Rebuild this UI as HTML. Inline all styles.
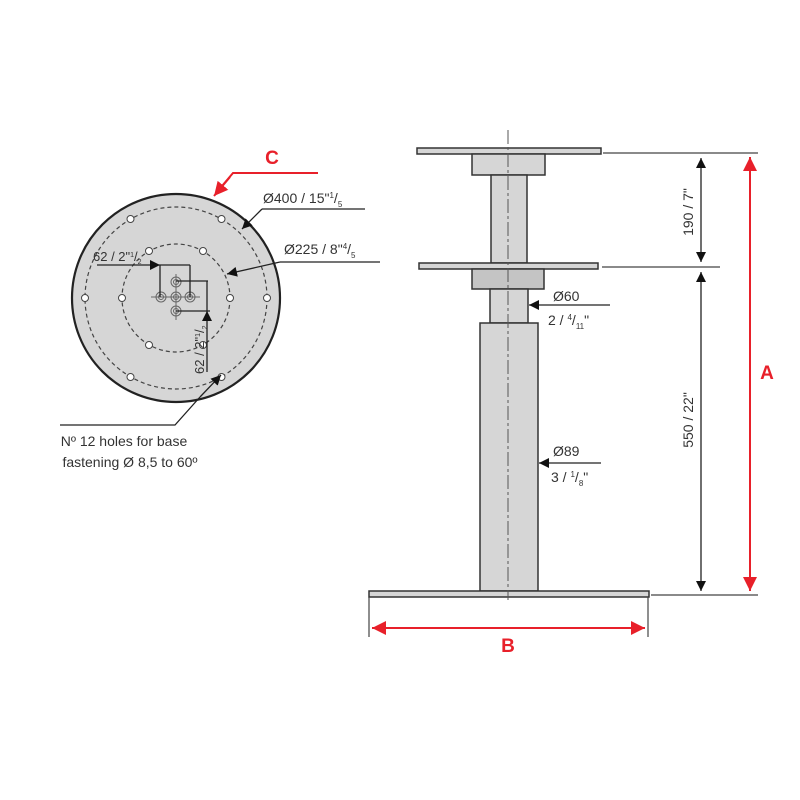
<!DOCTYPE html>
<html><head><meta charset="utf-8"><style>
html,body{margin:0;padding:0;background:#fff;}
svg{display:block;}
text{font-family:"Liberation Sans",sans-serif;fill:#333;}
</style></head><body>
<svg width="800" height="800" viewBox="0 0 800 800" xmlns="http://www.w3.org/2000/svg">
<defs>
<marker id="ab" viewBox="0 0 10 10" refX="10" refY="5" markerWidth="10" markerHeight="10" orient="auto-start-reverse" markerUnits="userSpaceOnUse"><path d="M0,0L10,5L0,10z" fill="#111"/></marker>
<marker id="ar" viewBox="0 0 10 10" refX="10" refY="5" markerWidth="14" markerHeight="14" orient="auto-start-reverse" markerUnits="userSpaceOnUse"><path d="M0,0L10,5L0,10z" fill="#e8202a"/></marker>
</defs>

<circle cx="176" cy="298" r="104" fill="#d6d6d6" stroke="#222" stroke-width="2.2"/>
<circle cx="176" cy="298" r="91" fill="none" stroke="#444" stroke-width="1.2" stroke-dasharray="4,3"/>
<circle cx="176" cy="298" r="54" fill="none" stroke="#444" stroke-width="1.2" stroke-dasharray="4,3"/>
<g fill="#fff" stroke="#444" stroke-width="1">
<circle cx="267" cy="298" r="3.5"/><circle cx="85" cy="298" r="3.5"/>
<circle cx="221.5" cy="219" r="3.5"/><circle cx="130.5" cy="219" r="3.5"/>
<circle cx="221.5" cy="377" r="3.5"/><circle cx="130.5" cy="377" r="3.5"/>
<circle cx="230" cy="298" r="3.5"/><circle cx="122" cy="298" r="3.5"/>
<circle cx="203" cy="251" r="3.5"/><circle cx="149" cy="251" r="3.5"/>
<circle cx="203" cy="345" r="3.5"/><circle cx="149" cy="345" r="3.5"/>
</g>
<g fill="none" stroke="#666" stroke-width="1">
<circle cx="176" cy="297" r="5"/><circle cx="176" cy="297" r="2.5"/>
<circle cx="161" cy="297" r="5"/><circle cx="161" cy="297" r="2.5"/>
<circle cx="190" cy="297" r="5"/><circle cx="190" cy="297" r="2.5"/>
<circle cx="176" cy="282" r="5"/><circle cx="176" cy="282" r="2.5"/>
<circle cx="176" cy="311" r="5"/><circle cx="176" cy="311" r="2.5"/>
<line x1="151" y1="297" x2="200" y2="297"/>
<line x1="176" y1="274" x2="176" y2="320"/>
</g>
<g stroke="#222" stroke-width="1.3" fill="none">
<line x1="97" y1="265" x2="160" y2="265" marker-end="url(#ab)"/>
<line x1="160" y1="265" x2="190" y2="265"/>
<line x1="160" y1="265" x2="160" y2="297"/>
<line x1="190" y1="265" x2="190" y2="297"/>
<line x1="176" y1="281" x2="208" y2="281"/>
<line x1="176" y1="311" x2="210" y2="311"/>
<line x1="207" y1="372" x2="207" y2="311" marker-end="url(#ab)"/>
<line x1="207" y1="281" x2="207" y2="311"/>
</g>
<text x="93" y="261" font-size="13">62 / 2"<tspan font-size="7" dy="-4">1</tspan><tspan dy="4">/</tspan><tspan font-size="7" dy="3">2</tspan></text>
<text transform="translate(204,374) rotate(-90)" font-size="13">62 / 2"<tspan font-size="7" dy="-4">1</tspan><tspan dy="4">/</tspan><tspan font-size="7" dy="3">2</tspan></text>

<g stroke="#222" stroke-width="1.3" fill="none">
<line x1="365" y1="209" x2="262" y2="209"/>
<line x1="262" y1="209" x2="242" y2="229" marker-end="url(#ab)"/>
<line x1="380" y1="262" x2="280" y2="262"/>
<line x1="280" y1="262" x2="227" y2="274" marker-end="url(#ab)"/>
<polyline points="60,425 175,425 200,397"/>
<line x1="200" y1="397" x2="221" y2="375" marker-end="url(#ab)"/>
</g>
<text x="263" y="203" font-size="14">Ø400 / 15"<tspan font-size="8" dy="-5">1</tspan><tspan dy="5">/</tspan><tspan font-size="8" dy="4">5</tspan></text>
<text x="284" y="254" font-size="14">Ø225 / 8"<tspan font-size="8" dy="-5">4</tspan><tspan dy="5">/</tspan><tspan font-size="8" dy="4">5</tspan></text>
<text x="124" y="446" font-size="14" text-anchor="middle">Nº 12 holes for base</text>
<text x="130" y="467" font-size="14" text-anchor="middle">fastening Ø 8,5 to 60º</text>

<polyline points="318,173 233,173 222,186" fill="none" stroke="#e8202a" stroke-width="2"/>
<line x1="230" y1="177" x2="214" y2="196" stroke="#e8202a" stroke-width="2" marker-end="url(#ar)"/>
<text x="272" y="164" font-size="19" font-weight="bold" text-anchor="middle" style="fill:#e8202a">C</text>

<g stroke="#333" stroke-width="1.5" fill="#d6d6d6">
<rect x="417" y="148" width="184" height="6"/>
<rect x="472" y="154" width="73" height="21"/>
<rect x="491" y="175" width="36" height="88"/>
<rect x="419" y="263" width="179" height="6"/>
<rect x="472" y="269" width="72" height="20" fill="#c4c4c4"/>
<rect x="490" y="289" width="38" height="34"/>
<rect x="480" y="323" width="58" height="268"/>
<rect x="369" y="591" width="280" height="6"/>
</g>
<line x1="508" y1="130" x2="508" y2="600" stroke="#555" stroke-width="1" stroke-dasharray="14,3,3,3"/>

<g stroke="#444" stroke-width="1.2" fill="none">
<line x1="603" y1="153" x2="758" y2="153"/>
<line x1="602" y1="267" x2="720" y2="267"/>
<line x1="651" y1="595" x2="758" y2="595"/>
<line x1="369" y1="597" x2="369" y2="637"/>
<line x1="648" y1="597" x2="648" y2="637"/>
</g>
<g stroke="#222" stroke-width="1.3">
<line x1="701" y1="158" x2="701" y2="262" marker-start="url(#ab)" marker-end="url(#ab)"/>
<line x1="701" y1="272" x2="701" y2="591" marker-start="url(#ab)" marker-end="url(#ab)"/>
<line x1="610" y1="305" x2="529" y2="305" marker-end="url(#ab)"/>
<line x1="601" y1="463" x2="539" y2="463" marker-end="url(#ab)"/>
</g>
<text transform="translate(693,212) rotate(-90)" font-size="14" text-anchor="middle">190 / 7"</text>
<text transform="translate(693,420) rotate(-90)" font-size="14" text-anchor="middle">550 / 22"</text>
<text x="553" y="301" font-size="14">Ø60</text>
<text x="548" y="325" font-size="14">2 / <tspan font-size="8" dy="-5">4</tspan><tspan dy="5">/</tspan><tspan font-size="8" dy="4">11</tspan><tspan dy="-4">"</tspan></text>
<text x="553" y="456" font-size="14">Ø89</text>
<text x="551" y="482" font-size="14">3 / <tspan font-size="8" dy="-5">1</tspan><tspan dy="5">/</tspan><tspan font-size="8" dy="4">8</tspan><tspan dy="-4">"</tspan></text>

<line x1="750" y1="157" x2="750" y2="591" stroke="#e8202a" stroke-width="2" marker-start="url(#ar)" marker-end="url(#ar)"/>
<text x="767" y="379" font-size="19" font-weight="bold" text-anchor="middle" style="fill:#e8202a">A</text>
<line x1="372" y1="628" x2="645" y2="628" stroke="#e8202a" stroke-width="2" marker-start="url(#ar)" marker-end="url(#ar)"/>
<text x="508" y="652" font-size="19" font-weight="bold" text-anchor="middle" style="fill:#e8202a">B</text>
</svg>
</body></html>
